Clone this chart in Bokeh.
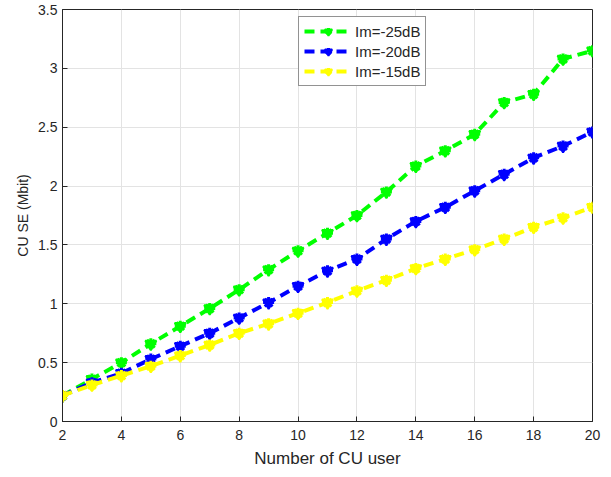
from bokeh.plotting import figure
from bokeh.models import Range1d, FixedTicker, Legend, LegendItem
from bokeh.embed import file_html
from bokeh.resources import INLINE

# Number of CU users
users = list(range(2, 21))

# Spectral efficiency (Mbit) for each interference level
se_m25 = [0.22, 0.36, 0.50, 0.66, 0.81, 0.96, 1.12, 1.29, 1.45, 1.60,
          1.75, 1.95, 2.17, 2.30, 2.44, 2.71, 2.78, 3.08, 3.15]
se_m20 = [0.22, 0.33, 0.41, 0.53, 0.64, 0.75, 0.88, 1.01, 1.15, 1.28,
          1.38, 1.55, 1.70, 1.82, 1.96, 2.10, 2.24, 2.34, 2.46]
se_m15 = [0.22, 0.31, 0.39, 0.47, 0.56, 0.65, 0.75, 0.83, 0.92, 1.01,
          1.11, 1.20, 1.30, 1.38, 1.46, 1.55, 1.65, 1.73, 1.82]

labels = ["Im=-25dB", "Im=-20dB", "Im=-15dB"]
colors = ["#00ff00", "#0000ff", "#ffff00"]

x_ticks = [2, 4, 6, 8, 10, 12, 14, 16, 18, 20]
y_ticks = [0, 0.5, 1, 1.5, 2, 2.5, 3, 3.5]

FONT = "Liberation Sans"
TXT = "#262626"
EDGE = "#262626"

p = figure(width=611, height=477, output_backend="svg", toolbar_location=None,
           x_range=Range1d(2, 20), y_range=Range1d(0, 3.5),
           min_border_left=62, min_border_right=19, min_border_top=9,
           min_border_bottom=56, x_axis_label="Number of CU user",
           y_axis_label="CU SE (Mbit)")
p.background_fill_color = "white"
p.border_fill_color = "white"
p.outline_line_color = EDGE
p.outline_line_width = 1

xax = p.below[0]
yax = p.left[0]
for ax, ticks in ((xax, x_ticks), (yax, y_ticks)):
    ax.ticker = FixedTicker(ticks=ticks)
    ax.major_tick_in = 5
    ax.major_tick_out = 0
    ax.minor_tick_in = 0
    ax.minor_tick_out = 0
    ax.axis_line_color = EDGE
    ax.major_tick_line_color = EDGE
    ax.major_label_text_font = FONT
    ax.major_label_text_font_size = "14px"
    ax.major_label_text_color = TXT
    ax.axis_label_text_font = FONT
    ax.axis_label_text_font_style = "normal"
    ax.axis_label_text_color = TXT

xax.axis_label_text_font_size = "17px"
yax.axis_label_text_font_size = "14px"
xax.major_label_standoff = 8
yax.major_label_standoff = 5
xax.axis_label_standoff = 6
yax.axis_label_standoff = 4

p.xgrid.ticker = FixedTicker(ticks=x_ticks)
p.ygrid.ticker = FixedTicker(ticks=y_ticks)
for g in (p.xgrid, p.ygrid):
    g.grid_line_color = "#e3e3e3"
    g.grid_line_width = 1

items = []
for ys, lab, col in zip([se_m25, se_m20, se_m15], labels, colors):
    ln = p.line(users, ys, line_color=col, line_width=4, line_dash="10 6")
    mk = p.scatter(users, ys, marker="inverted_triangle", size=11,
                   fill_color=col, line_color=col, line_width=2)
    st = p.scatter(users, ys, marker="asterisk", size=11,
                   line_color=col, line_width=3)
    items.append(LegendItem(label=lab, renderers=[ln, mk, st]))

legend = Legend(items=items, location=(236, 335))
legend.label_text_font = FONT
legend.label_text_font_size = "15px"
legend.label_text_color = TXT
legend.border_line_color = EDGE
legend.border_line_width = 1
legend.glyph_width = 48
legend.glyph_height = 18
legend.label_height = 18
legend.label_standoff = 3
legend.spacing = 2
legend.padding = 5
legend.margin = 0
legend.background_fill_alpha = 1
p.add_layout(legend, "center")

open("out.html", "w").write(file_html(p, INLINE))
